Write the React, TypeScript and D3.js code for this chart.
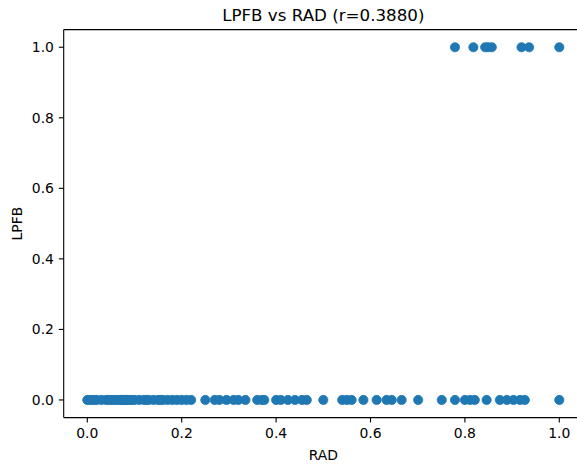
import React from "react";
import * as d3 from "d3";

const title = "LPFB vs RAD (r=0.3880)";
const xLabel = "RAD";
const yLabel = "LPFB";

const radAtZero = [
  0.0, 0.005, 0.01, 0.015, 0.02, 0.03, 0.04, 0.045, 0.05, 0.055, 0.06, 0.065,
  0.07, 0.072, 0.075, 0.078, 0.08, 0.083, 0.085, 0.09, 0.095, 0.1, 0.11, 0.12,
  0.125, 0.13, 0.14, 0.15, 0.155, 0.16, 0.17, 0.18, 0.19, 0.2, 0.21, 0.22,
  0.25, 0.27, 0.28, 0.295, 0.31, 0.32, 0.335, 0.36, 0.37, 0.375,
  0.4, 0.41, 0.425, 0.44, 0.455, 0.465,
  0.5, 0.54, 0.55, 0.56, 0.585, 0.613, 0.634, 0.645, 0.666, 0.701, 0.751,
  0.779, 0.8, 0.811, 0.821, 0.846, 0.874, 0.889, 0.903, 0.917, 0.927, 1.0,
];
const radAtOne = [0.779, 0.818, 0.843, 0.849, 0.857, 0.92, 0.936, 1.0];
const xTicks = [0.0, 0.2, 0.4, 0.6, 0.8, 1.0];
const yTicks = [0.0, 0.2, 0.4, 0.6, 0.8, 1.0];

const W = 577;
const H = 464;
const font = "DejaVu Sans, sans-serif";

export default function App() {
  const x = d3.scaleLinear().domain([-0.05, 1.05]).range([63.7, 582.9]);
  const y = d3.scaleLinear().domain([-0.05, 1.05]).range([417.6, 29.6]);
  const [x0, x1] = x.range();
  const [y0, y1] = y.range();
  const points = [
    ...radAtZero.map((v) => ({ x: v, y: 0 })),
    ...radAtOne.map((v) => ({ x: v, y: 1 })),
  ];
  const fmt = d3.format(".1f");
  return (
    <svg
      width={W}
      height={H}
      style={{ position: "absolute", left: 0, top: 0, background: "#fff" }}
      fontFamily={font}
    >
      <rect width={W} height={H} fill="#fff" />
      {points.map((p, i) => (
        <circle key={i} cx={x(p.x)} cy={y(p.y)} r={4.6} fill="#1f77b4" stroke="#1f77b4" strokeWidth={0.8} />
      ))}
      {/* spines */}
      <line x1={x0} x2={x0} y1={y0} y2={y1} stroke="#000" strokeWidth={1.1} />
      <line x1={x0} x2={x1} y1={y0} y2={y0} stroke="#000" strokeWidth={1.1} />
      <line x1={x0} x2={x1} y1={y1} y2={y1} stroke="#000" strokeWidth={1.1} />
      <line x1={x1} x2={x1} y1={y0} y2={y1} stroke="#000" strokeWidth={1.1} />
      {xTicks.map((t) => (
        <g key={"x" + t}>
          <line x1={x(t)} x2={x(t)} y1={y0} y2={y0 + 4.9} stroke="#000" strokeWidth={1.1} />
          <text x={x(t)} y={y0 + 20.5} fontSize={13.9} textAnchor="middle" fill="#000">
            {fmt(t)}
          </text>
        </g>
      ))}
      {yTicks.map((t) => (
        <g key={"y" + t}>
          <line x1={x0} x2={x0 - 4.9} y1={y(t)} y2={y(t)} stroke="#000" strokeWidth={1.1} />
          <text x={x0 - 9.8} y={y(t) + 5} fontSize={13.9} textAnchor="end" fill="#000">
            {fmt(t)}
          </text>
        </g>
      ))}
      <text x={(x0 + x1) / 2} y={21} fontSize={16.7} textAnchor="middle" fill="#000">
        {title}
      </text>
      <text x={(x0 + x1) / 2} y={459.5} fontSize={13.9} textAnchor="middle" fill="#000">
        {xLabel}
      </text>
      <text
        transform={`translate(21.5, ${(y0 + y1) / 2}) rotate(-90)`}
        fontSize={13.9}
        textAnchor="middle"
        fill="#000"
      >
        {yLabel}
      </text>
    </svg>
  );
}
